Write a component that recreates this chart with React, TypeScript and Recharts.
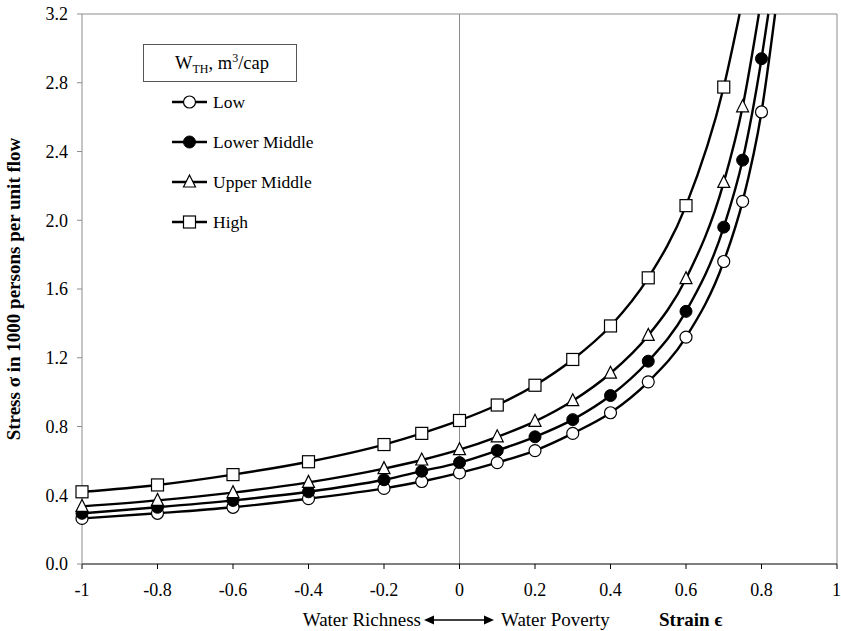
import React from "react";
import { ComposedChart, Line, Scatter, XAxis, YAxis, ReferenceLine } from "recharts";

// strain values where the markers sit
const STRAIN = [-1, -0.8, -0.6, -0.4, -0.2, -0.1, 0, 0.1, 0.2, 0.3, 0.4, 0.5, 0.6, 0.7, 0.75, 0.8];

// stress readings per water threshold group
const LOW = [0.265, 0.295, 0.33, 0.38, 0.44, 0.48, 0.53, 0.59, 0.66, 0.76, 0.88, 1.06, 1.32, 1.76, 2.11, 2.63];
const LOWER_MIDDLE = [0.295, 0.33, 0.37, 0.42, 0.49, 0.54, 0.59, 0.66, 0.74, 0.84, 0.98, 1.18, 1.47, 1.96, 2.35, 2.94];
const UPPER_MIDDLE = [0.335, 0.37, 0.415, 0.475, 0.555, 0.605, 0.665, 0.74, 0.83, 0.95, 1.11, 1.33, 1.66, 2.22, 2.66];
const HIGH = [0.42, 0.46, 0.52, 0.595, 0.695, 0.76, 0.835, 0.925, 1.04, 1.19, 1.385, 1.665, 2.085, 2.775];

// strain where each fitted curve leaves the top of the plot (y = 3.2)
const TOP_EXIT = [0.836, 0.818, 0.793, 0.742];

const SERIES_NAMES = ["Low", "Lower Middle", "Upper Middle", "High"];
const SERIES_VALUES = [LOW, LOWER_MIDDLE, UPPER_MIDDLE, HIGH];
const MARKERS = ["circle", "dot", "triangle", "square"];

const X_TICKS = [-1, -0.8, -0.6, -0.4, -0.2, 0, 0.2, 0.4, 0.6, 0.8, 1];
const Y_TICKS = [0, 0.4, 0.8, 1.2, 1.6, 2.0, 2.4, 2.8, 3.2];

const FONT = "Liberation Serif";
const FRAME = "#8c8c8c";

const Marker = ({ kind, cx, cy }: { kind: string; cx: number; cy: number }) => {
  if (cx == null || cy == null) return null;
  const s = 6;
  if (kind === "circle")
    return <circle cx={cx} cy={cy} r={s} fill="#fff" stroke="#000" strokeWidth={1.2} />;
  if (kind === "dot") return <circle cx={cx} cy={cy} r={s} fill="#000" stroke="#000" strokeWidth={1} />;
  if (kind === "triangle")
    return (
      <polygon
        points={`${cx},${cy - s - 1} ${cx - s},${cy + s - 1} ${cx + s},${cy + s - 1}`}
        fill="#fff"
        stroke="#000"
        strokeWidth={1.2}
      />
    );
  return <rect x={cx - s} y={cy - s} width={2 * s} height={2 * s} fill="#fff" stroke="#000" strokeWidth={1.2} />;
};

const seriesPoints = SERIES_VALUES.map((vals) => vals.map((y, i) => ({ x: STRAIN[i], y })));
const curvePoints = seriesPoints.map((pts, k) => [...pts, { x: TOP_EXIT[k], y: 3.2 }]);

export default function App() {
  return (
    <div style={{ position: "absolute", left: 0, top: 0, width: 841, height: 631, background: "#fff" }}>
      <ComposedChart width={841} height={631} margin={{ top: 14, right: 4, bottom: 37, left: 22 }}>
        <XAxis
          type="number"
          dataKey="x"
          domain={[-1, 1]}
          ticks={X_TICKS}
          tickFormatter={(v: number) => String(v)}
          stroke="#000"
          tickSize={5}
          tickMargin={14}
          tick={{ fill: "#000", fontFamily: FONT, fontSize: 18 }}
          height={30}
        />
        <YAxis
          type="number"
          dataKey="y"
          domain={[0, 3.2]}
          ticks={Y_TICKS}
          tickFormatter={(v: number) => v.toFixed(1)}
          stroke={FRAME}
          tickSize={5}
          tickMargin={9}
          tick={{ fill: "#000", fontFamily: FONT, fontSize: 18 }}
          width={60}
        />
        <ReferenceLine y={3.2} stroke={FRAME} strokeWidth={1} />
        <ReferenceLine x={1} stroke={FRAME} strokeWidth={1} />
        <ReferenceLine x={0} stroke={FRAME} strokeWidth={1} />
        {curvePoints.map((pts, k) => (
          <Line
            key={`line-${k}`}
            data={pts}
            dataKey="y"
            type="monotone"
            stroke="#000"
            strokeWidth={2.4}
            dot={false}
            activeDot={false}
            isAnimationActive={false}
          />
        ))}
        {seriesPoints.map((pts, k) => (
          <Scatter
            key={`pts-${k}`}
            name={SERIES_NAMES[k]}
            data={pts}
            dataKey="y"
            isAnimationActive={false}
            shape={(p: any) => <Marker kind={MARKERS[k]} cx={p.cx} cy={p.cy} />}
          />
        ))}
      </ComposedChart>

      <svg
        width={841}
        height={631}
        style={{ position: "absolute", left: 0, top: 0, pointerEvents: "none", fontFamily: FONT }}
      >
        {/* legend */}
        <rect x={143.5} y={44.5} width={153} height={37} fill="#fff" stroke="#555" strokeWidth={1} />
        <text x={222} y={69} textAnchor="middle" fontSize={18.5} fill="#000">
          W<tspan fontSize={12} dy={4}>TH</tspan>
          <tspan dy={-4}>, m</tspan>
          <tspan fontSize={12} dy={-7}>3</tspan>
          <tspan dy={7}>/cap</tspan>
        </text>
        {SERIES_NAMES.map((name, k) => {
          const y = 102 + k * 40;
          return (
            <g key={name}>
              <line x1={172} x2={207} y1={y} y2={y} stroke="#000" strokeWidth={2.4} />
              <Marker kind={MARKERS[k]} cx={189.5} cy={y} />
              <text x={213} y={y + 6} fontSize={17.5} fill="#000">
                {name}
              </text>
            </g>
          );
        })}

        {/* y axis title */}
        <text
          x={0}
          y={0}
          transform="translate(20,289) rotate(-90)"
          textAnchor="middle"
          fontSize={19}
          fontWeight="bold"
          fill="#000"
        >
          Stress σ in 1000 persons per unit flow
        </text>

        {/* x axis annotation */}
        <text x={421} y={626} textAnchor="end" fontSize={19} fill="#000">
          Water Richness
        </text>
        <line x1={432} x2={486} y1={620} y2={620} stroke="#000" strokeWidth={1.5} />
        <polygon points="424,620 434,615.5 434,624.5" fill="#000" />
        <polygon points="494,620 484,615.5 484,624.5" fill="#000" />
        <text x={501} y={626} fontSize={19} fill="#000">
          Water Poverty
        </text>
        <text x={659} y={626} fontSize={19} fontWeight="bold" fill="#000">
          Strain ϵ
        </text>
      </svg>
    </div>
  );
}
